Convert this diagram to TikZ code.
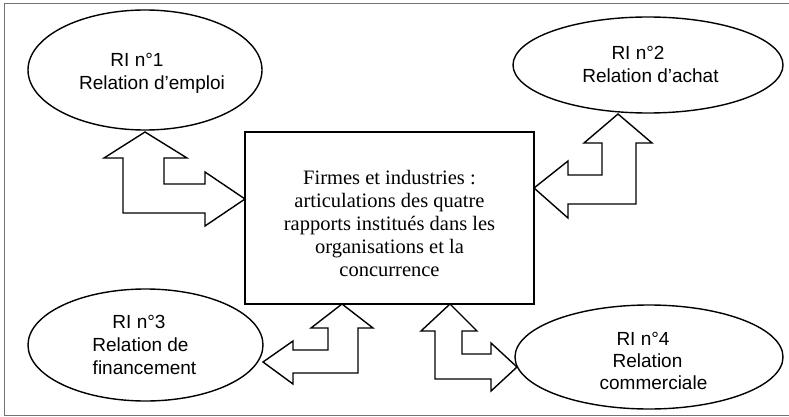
\documentclass[tikz,border=0pt]{standalone}
\usepackage{fontspec}
\setmainfont{Liberation Serif}
\newfontfamily\sansf{Liberation Sans}
\usetikzlibrary{shapes.geometric}
\tikzset{
  frameline/.style={draw=black!55, line width=0.8pt},
  ell/.style={draw=black, line width=1.4pt, ellipse, inner sep=0pt, fill=white},
  etext/.style={anchor=base, inner sep=0pt, font=\sansf\fontsize{19}{22.6}\selectfont},
  box/.style={draw=black, line width=1.4pt, rectangle, inner sep=0pt, fill=white},
  ctext/.style={align=center, inner sep=0pt, font=\fontsize{20.5}{23.1}\selectfont},
  barrow/.style={draw=black, line width=1.4pt, fill=white, line join=miter, miter limit=10}
}
\begin{document}
\begin{tikzpicture}[x=1pt,y=-1pt]
\useasboundingbox (0,0) rectangle (789,417);
% outer frame (right side outside the picture)
\draw[frameline] (789,3) -- (4,3) -- (4,415) -- (789,415);

% central box
\node[box, minimum width=289pt, minimum height=172pt] (firm) at (389.5,218) {};
\node[ctext] (firmtext) at (389.5,223.5) {Firmes et industries :\\articulations des quatre\\rapports institués dans les\\organisations et la\\concurrence};

% ellipses
\node[ell, minimum width=234pt, minimum height=120pt] (e1) at (145,70) {};
\node[ell, minimum width=270pt, minimum height=96pt] (e2) at (648,65) {};
\node[ell, minimum width=235pt, minimum height=112pt] (e3) at (145.5,345) {};
\node[ell, minimum width=268pt, minimum height=104pt] (e4) at (649,357) {};

\node[etext] (t1a) at (137,66.7) {RI n°1};
\node[etext] (t1b) at (152,89.3) {Relation d’emploi};
\node[etext] (t2a) at (638,60) {RI n°2};
\node[etext] (t2b) at (650.5,83) {Relation d’achat};
\node[etext] (t3a) at (139,328) {RI n°3};
\node[etext] (t3b) at (140.5,351.7) {Relation de};
\node[etext] (t3c) at (144.5,374.5) {financement};
\node[etext] (t4a) at (643,345) {RI n°4};
\node[etext] (t4b) at (647.5,367) {Relation};
\node[etext] (t4c) at (653.5,389.5) {commerciale};

% bent double block arrows
\draw[barrow] (145,132) -- (187,158) -- (164,158) -- (164,184) -- (205,184) -- (205,172)
  -- (245,199) -- (205,226) -- (205,213) -- (123,213) -- (123,158) -- (104,158) -- cycle;
\draw[barrow] (618,114) -- (652,143) -- (636,143) -- (636,204) -- (568,204) -- (568,218)
  -- (534,188) -- (568,161) -- (568,175) -- (602,175) -- (602,143) -- (584,143) -- cycle;
\draw[barrow] (342,304) -- (373,328) -- (358,328) -- (358,373) -- (293,373) -- (293,384)
  -- (263,362) -- (293,341) -- (293,350) -- (328,350) -- (328,328) -- (311,328) -- cycle;
\draw[barrow] (450,304) -- (477,331) -- (462,331) -- (462,354) -- (491,354) -- (491,343)
  -- (517,367) -- (491,391) -- (491,379) -- (435,379) -- (435,331) -- (421,331) -- cycle;
\end{tikzpicture}
\end{document}
